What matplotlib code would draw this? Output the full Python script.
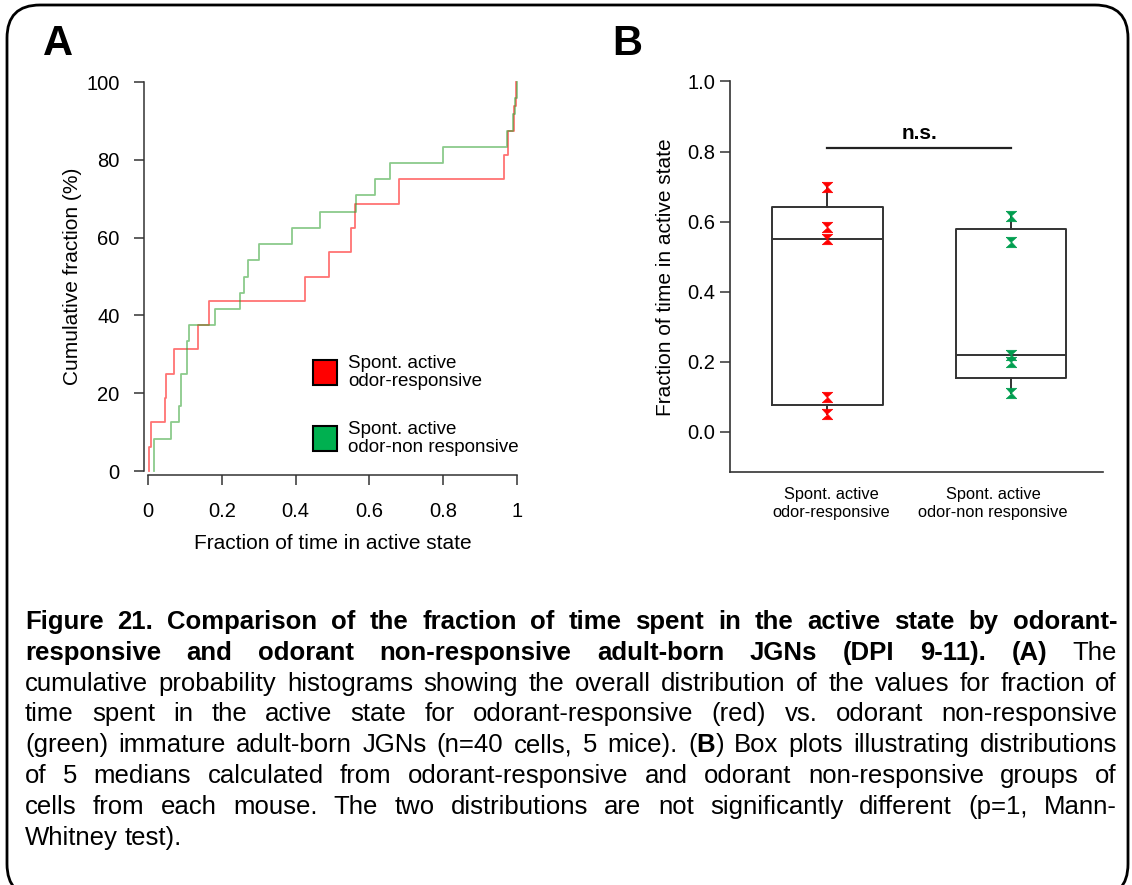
import numpy as np
import matplotlib.pyplot as plt
from matplotlib.patches import FancyBboxPatch, Rectangle

plt.rcParams['font.family'] = ['Liberation Sans', 'DejaVu Sans']
plt.rcParams['mathtext.fontset'] = 'custom'
plt.rcParams['mathtext.rm'] = 'Liberation Sans'
plt.rcParams['mathtext.bf'] = 'Liberation Sans:bold'

# Panel A: fraction of time in active state, one value per cell
resp_cells = [0.003, 0.009, 0.045, 0.050, 0.070, 0.136, 0.165, 0.426,
              0.490, 0.549, 0.560, 0.680, 0.964, 0.976, 0.991, 0.998]
nonresp_cells = [0.016, 0.016, 0.063, 0.084, 0.089, 0.089, 0.106, 0.106,
                 0.111, 0.181, 0.248, 0.260, 0.271, 0.300, 0.390, 0.465,
                 0.565, 0.615, 0.655, 0.799, 0.973, 0.989, 0.994, 1.000]

# Panel B: per-mouse medians
resp_mice = [0.700, 0.585, 0.550, 0.100, 0.050]
nonresp_mice = [0.617, 0.542, 0.218, 0.198, 0.109]

group_labels = ['Spont. active\nodor-responsive', 'Spont. active\nodor-non responsive']
xticks_a = [0, 0.2, 0.4, 0.6, 0.8, 1]
xticklabels_a = ['0', '0.2', '0.4', '0.6', '0.8', '1']
yticks_a = [0, 20, 40, 60, 80, 100]
yticks_b = [0.0, 0.2, 0.4, 0.6, 0.8, 1.0]

caption_lines = [
    [("Figure 21. Comparison of the fraction of time spent in the active state by odorant-", "bold")],
    [("responsive and odorant non-responsive adult-born JGNs (DPI 9-11). (A)", "bold"), ("The", "normal")],
    [("cumulative probability histograms showing the overall distribution of the values for fraction of", "normal")],
    [("time spent in the active state for odorant-responsive (red) vs. odorant non-responsive", "normal")],
    [("(green) immature adult-born JGNs (n=40 cells, 5 mice). ($\\mathbf{B}$) Box plots illustrating distributions", "normal")],
    [("of 5 medians calculated from odorant-responsive and odorant non-responsive groups of", "normal")],
    [("cells from each mouse. The two distributions are not significantly different (p=1, Mann-", "normal")],
    [("Whitney test).", "normal")],
]

RED = '#ff0000'
DARK = '#333333'

W, H = 1132, 885
fig = plt.figure(figsize=(W / 100, H / 100), dpi=100)


def px_axes(l, t, r, b):
    return fig.add_axes([l / W, 1 - b / H, (r - l) / W, (b - t) / H])


def ecdf(vals):
    x = np.sort(vals)
    y = np.arange(1, len(x) + 1) / len(x) * 100
    return np.r_[x[0], x], np.r_[0, y]


# ---------------- Panel A ----------------
axA = px_axes(148, 82, 517, 471)
for vals, col in [(resp_cells, RED), (nonresp_cells, '#2ca02c')]:
    x, y = ecdf(vals)
    axA.step(x, y, where='post', color=col, lw=1.3, alpha=0.55, clip_on=False)
axA.set_xlim(0, 1)
axA.set_ylim(0, 100)
axA.set_xticks(xticks_a, xticklabels_a)
axA.set_yticks(yticks_a)
for s in ['top', 'right']:
    axA.spines[s].set_visible(False)
for s in ['left', 'bottom']:
    axA.spines[s].set_position(('outward', 3))
    axA.spines[s].set_color(DARK)
    axA.spines[s].set_linewidth(1.1)
axA.tick_params(axis='both', direction='out', length=7.5, width=1.1, color=DARK,
                labelsize=14.5, pad=10)
axA.tick_params(axis='x', pad=12)
axA.set_xlabel('Fraction of time in active state', fontsize=15, labelpad=9)
axA.set_ylabel('Cumulative fraction (%)', fontsize=15, labelpad=3)

# legend squares
for (yb, col), lab in zip([(0.221, RED), (0.051, '#00b050')], group_labels):
    axA.add_patch(Rectangle((0.446, yb), 0.065, 0.064, transform=axA.transAxes,
                            facecolor=col, edgecolor='black', lw=1.5, clip_on=False))
    axA.text(0.542, yb + 0.032, lab, transform=axA.transAxes, fontsize=13.5,
             va='center', ha='left', linespacing=1.05)

# ---------------- Panel B ----------------
axB = px_axes(730, 81.5, 1103, 472)
stats = []
for vals in (resp_mice, nonresp_mice):
    q1, med, q3 = np.percentile(vals, [25, 50, 75], method='weibull')
    stats.append(dict(med=med, q1=q1, q3=q3, whislo=min(vals), whishi=max(vals), fliers=[]))
lineprops = dict(color=DARK, lw=1.4)
axB.bxp(stats, positions=[1, 2], widths=0.6, showcaps=False, showfliers=False,
        boxprops=lineprops, whiskerprops=lineprops, medianprops=lineprops)

hourglass = [(-1, 1), (1, 1), (0, 0.1), (1, -1), (-1, -1), (0, -0.1), (-1, 1)]
for pos, vals, col in [(1, resp_mice, RED), (2, nonresp_mice, '#009e4f')]:
    axB.plot([pos] * len(vals), vals, ls='none', marker=hourglass, ms=7.5,
             color=col, mec=col, mew=0.5, zorder=3)

axB.plot([1, 2], [0.81, 0.81], color='#222222', lw=1.6)
axB.text(1.5, 0.852, 'n.s.', ha='center', va='center', fontsize=15, weight='bold')

axB.set_xlim(0.47, 2.499)
axB.set_ylim(-0.1157, 1.0)
axB.set_yticks(yticks_b)
axB.set_xticks([])
for s in ['top', 'right']:
    axB.spines[s].set_visible(False)
for s in ['left', 'bottom']:
    axB.spines[s].set_color(DARK)
    axB.spines[s].set_linewidth(1.2)
axB.tick_params(axis='y', direction='out', length=7, width=1.1, color=DARK,
                labelsize=14.5, pad=3.5)
axB.set_ylabel('Fraction of time in active state', fontsize=15, labelpad=9)
for xpos, lab in zip([1.02, 1.90], group_labels):
    axB.text(xpos, -0.206, lab, ha='center', va='center', fontsize=11.8,
             linespacing=1.25, clip_on=False)

# ---------------- panel letters ----------------
fig.text(43 / W, 1 - 55 / H, 'A', fontsize=30, weight='bold', va='baseline')
fig.text(612 / W, 1 - 55 / H, 'B', fontsize=30, weight='bold', va='baseline')

# ---------------- frame ----------------
fig.add_artist(FancyBboxPatch((0.07, -0.12), 11.21, 8.92,
                              boxstyle='round,pad=0,rounding_size=0.33',
                              transform=fig.dpi_scale_trans, fill=False,
                              ec='black', lw=2.0))

# ---------------- caption (justified) ----------------
renderer = fig.canvas.get_renderer()
x_left, x_right = 25, 1117
cap_size = 18.5
for i, line in enumerate(caption_lines):
    words = [(w, wt) for seg, wt in line for w in seg.split(' ')]
    ybase = 1 - (629 + 30.8 * i) / H
    texts = [fig.text(0, ybase, w, fontsize=cap_size, weight=wt, va='baseline')
             for w, wt in words]
    widths = [t.get_window_extent(renderer).width for t in texts]
    if i == len(caption_lines) - 1:
        gap = 0.278 * cap_size * 100 / 72
    else:
        gap = (x_right - x_left - sum(widths)) / (len(words) - 1)
    x = x_left
    for t, wd in zip(texts, widths):
        t.set_x(x / W)
        x += wd + gap

fig.savefig('out.png', dpi=100)
